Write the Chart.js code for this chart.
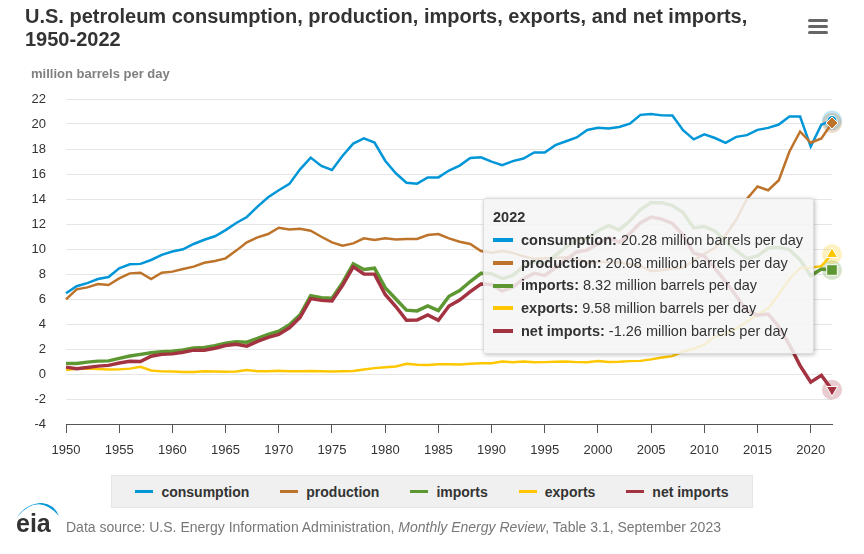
<!DOCTYPE html>
<html lang="en">
<head>
<meta charset="UTF-8" />
<title>U.S. petroleum consumption, production, imports, exports, and net imports, 1950-2022</title>
<script src="https://cdn.jsdelivr.net/npm/chart.js"></script>
<style>
  body {
    margin: 0;
    background: #fff;
    font-family: Arial, "Liberation Sans", Helvetica, sans-serif;
  }
  #wrap {
    position: relative;
    width: 864px;
    height: 554px;
    overflow: hidden;
  }
  #chartBox {
    position: absolute;
    left: 0;
    top: 0;
    width: 864px;
    height: 554px;
  }
  h1 {
    position: absolute;
    left: 25px;
    top: 5px;
    margin: 0;
    font-size: 20px;
    line-height: 23px;
    font-weight: bold;
    color: #333;
    z-index: 2;
  }
  .menu {
    position: absolute;
    left: 808px;
    top: 19px;
    width: 20px;
    z-index: 2;
  }
  .menu span {
    display: block;
    height: 3px;
    margin-bottom: 3px;
    border-radius: 2px;
    background: #666;
  }
  .unit {
    position: absolute;
    left: 31px;
    top: 66px;
    font-size: 13px;
    font-weight: bold;
    color: #7f7f7f;
    z-index: 2;
  }
  #legend {
    position: absolute;
    left: 111px;
    top: 475px;
    width: 640px;
    height: 31px;
    background: #f0f0f0;
    border: 1px solid #e6e6e6;
    display: flex;
    align-items: center;
    justify-content: center;
    gap: 31px;
    z-index: 2;
  }
  .lg-item {
    display: flex;
    align-items: center;
    font-size: 14px;
    font-weight: bold;
    color: #333;
  }
  .lg-dash {
    display: inline-block;
    width: 18px;
    height: 3px;
    margin-right: 8px;
  }
  .source {
    position: absolute;
    left: 66px;
    top: 519px;
    font-size: 14px;
    color: #777;
    z-index: 2;
  }
  .logo {
    position: absolute;
    left: 14px;
    top: 498px;
    z-index: 2;
  }
  #tip {
    position: absolute;
    display: none;
    padding: 8px 10px 10px 9px;
    background: rgba(245, 245, 245, 0.86);
    border: 1px solid #dcdcdc;
    border-radius: 3px;
    box-shadow: 1px 1px 4px rgba(0, 0, 0, 0.25);
    color: #333;
    font-size: 14.5px;
    white-space: nowrap;
    z-index: 3;
  }
  .tt-title {
    font-weight: bold;
    line-height: 20px;
    margin-bottom: 2px;
  }
  .tt-row {
    display: flex;
    align-items: center;
    line-height: 22.7px;
  }
  .tt-dash {
    display: inline-block;
    width: 20px;
    height: 4px;
    margin-right: 8px;
  }
</style>
</head>
<body>
<div id="wrap">
  <div id="chartBox"><canvas id="petroChart"></canvas></div>
  <h1>U.S. petroleum consumption, production, imports, exports, and net imports,<br>1950-2022</h1>
  <div class="menu"><span></span><span></span><span></span></div>
  <div class="unit">million barrels per day</div>
  <div id="legend"></div>
  <svg class="logo" width="50" height="38" viewBox="0 0 50 38">
    <path d="M3,19 Q24,-6 45,18 Q40,6 28,5 Q13,5 3,19 Z" fill="#0096d7"/>
    <text x="2" y="34" font-family="Arial, Liberation Sans, sans-serif" font-size="25" font-weight="bold" fill="#333">eia</text>
  </svg>
  <div class="source">Data source: U.S. Energy Information Administration, <i>Monthly Energy Review</i>, Table 3.1, September 2023</div>
  <div id="tip"></div>
</div>

<script>
  const years = [
    1950, 1951, 1952, 1953, 1954, 1955, 1956, 1957, 1958, 1959,
    1960, 1961, 1962, 1963, 1964, 1965, 1966, 1967, 1968, 1969,
    1970, 1971, 1972, 1973, 1974, 1975, 1976, 1977, 1978, 1979,
    1980, 1981, 1982, 1983, 1984, 1985, 1986, 1987, 1988, 1989,
    1990, 1991, 1992, 1993, 1994, 1995, 1996, 1997, 1998, 1999,
    2000, 2001, 2002, 2003, 2004, 2005, 2006, 2007, 2008, 2009,
    2010, 2011, 2012, 2013, 2014, 2015, 2016, 2017, 2018, 2019,
    2020, 2021, 2022
  ];

  const consumption = [
    6.46, 7.02, 7.27, 7.60, 7.76, 8.46, 8.78, 8.81, 9.12, 9.53,
    9.80, 9.98, 10.40, 10.74, 11.02, 11.51, 12.08, 12.56, 13.39, 14.14,
    14.70, 15.21, 16.37, 17.31, 16.65, 16.32, 17.46, 18.43, 18.85, 18.51,
    17.06, 16.06, 15.30, 15.23, 15.73, 15.73, 16.28, 16.67, 17.28, 17.33,
    16.99, 16.71, 17.03, 17.24, 17.72, 17.72, 18.31, 18.62, 18.92, 19.52,
    19.70, 19.65, 19.76, 20.03, 20.73, 20.80, 20.69, 20.68, 19.50, 18.77,
    19.18, 18.88, 18.49, 18.97, 19.11, 19.53, 19.69, 19.96, 20.60, 20.60,
    18.19, 19.95, 20.28
  ];

  const production = [
    5.97, 6.77, 6.93, 7.20, 7.12, 7.65, 8.05, 8.10, 7.60, 8.10,
    8.19, 8.40, 8.59, 8.90, 9.04, 9.25, 9.87, 10.53, 10.93, 11.20,
    11.70, 11.57, 11.62, 11.46, 10.98, 10.53, 10.27, 10.45, 10.85, 10.72,
    10.85, 10.77, 10.80, 10.80, 11.12, 11.20, 10.85, 10.58, 10.40, 9.84,
    9.70, 9.84, 9.69, 9.42, 9.21, 9.26, 9.29, 9.33, 9.19, 8.90,
    8.98, 8.95, 8.94, 8.80, 8.64, 8.25, 8.29, 8.44, 8.49, 9.09,
    9.61, 10.10, 11.11, 12.34, 14.00, 15.00, 14.70, 15.50, 17.80, 19.40,
    18.50, 18.85, 20.08
  ];

  const imports = [
    0.85, 0.84, 0.95, 1.03, 1.05, 1.25, 1.44, 1.57, 1.70, 1.78,
    1.82, 1.92, 2.08, 2.12, 2.26, 2.47, 2.57, 2.54, 2.84, 3.17,
    3.42, 3.93, 4.74, 6.26, 6.11, 6.06, 7.31, 8.81, 8.36, 8.46,
    6.91, 6.00, 5.11, 5.05, 5.44, 5.07, 6.22, 6.68, 7.40, 8.06,
    8.02, 7.63, 7.89, 8.62, 9.00, 8.83, 9.48, 10.16, 10.71, 10.85,
    11.46, 11.87, 11.53, 12.26, 13.15, 13.71, 13.71, 13.47, 12.92, 11.69,
    11.79, 11.44, 10.60, 9.86, 9.24, 9.45, 10.06, 10.14, 9.94, 9.14,
    7.86, 8.40, 8.32
  ];

  const exports = [
    0.31, 0.42, 0.43, 0.40, 0.36, 0.37, 0.43, 0.57, 0.28, 0.21,
    0.20, 0.17, 0.17, 0.21, 0.20, 0.19, 0.20, 0.31, 0.23, 0.23,
    0.26, 0.22, 0.22, 0.23, 0.22, 0.21, 0.22, 0.24, 0.36, 0.47,
    0.54, 0.60, 0.82, 0.74, 0.72, 0.78, 0.78, 0.76, 0.82, 0.86,
    0.86, 1.00, 0.95, 1.00, 0.94, 0.95, 0.98, 1.00, 0.95, 0.94,
    1.04, 0.97, 0.98, 1.03, 1.05, 1.17, 1.32, 1.43, 1.80, 2.02,
    2.35, 2.99, 3.21, 3.62, 4.18, 4.74, 5.26, 6.38, 7.60, 8.47,
    8.51, 8.63, 9.58
  ];

  const netImports = [
    0.55, 0.42, 0.52, 0.63, 0.69, 0.88, 1.01, 1.00, 1.42, 1.57,
    1.61, 1.74, 1.91, 1.91, 2.06, 2.28, 2.37, 2.23, 2.61, 2.93,
    3.16, 3.70, 4.52, 6.03, 5.89, 5.85, 7.09, 8.57, 8.00, 7.99,
    6.36, 5.40, 4.30, 4.31, 4.72, 4.29, 5.44, 5.91, 6.59, 7.20,
    7.16, 6.63, 6.94, 7.62, 8.05, 7.89, 8.50, 9.16, 9.76, 9.91,
    10.42, 10.90, 10.55, 11.24, 12.10, 12.55, 12.39, 12.04, 11.11, 9.67,
    9.44, 8.45, 7.39, 6.24, 5.06, 4.71, 4.80, 3.77, 2.34, 0.67,
    -0.65, -0.10, -1.26
  ];

  const seriesNames = ['consumption', 'production', 'imports', 'exports', 'net imports'];
  const seriesColors = ['#0096d7', '#bd732a', '#5d9732', '#ffc702', '#a33340'];
  const unitText = 'million barrels per day';

  function toPoints(values) {
    return years.map((yr, i) => ({ x: yr, y: values[i] }));
  }

  function withAlpha(hex, a) {
    const n = parseInt(hex.slice(1), 16);
    return `rgba(${(n >> 16) & 255}, ${(n >> 8) & 255}, ${n & 255}, ${a})`;
  }

  function makeSet(i, values, style) {
    return Object.assign({
      label: seriesNames[i],
      data: toPoints(values),
      borderColor: seriesColors[i],
      backgroundColor: seriesColors[i],
      borderWidth: 2.5,
      pointRadius: 0,
      pointHoverBackgroundColor: seriesColors[i],
      pointHoverBorderColor: '#ffffff',
      pointHoverBorderWidth: 1,
      tension: 0,
      clip: false,
      order: 4 - i
    }, style);
  }

  // translucent circle behind each hovered point
  const haloPlugin = {
    id: 'halo',
    beforeDatasetsDraw(chart) {
      const ctx = chart.ctx;
      chart.getActiveElements().forEach(a => {
        const color = chart.data.datasets[a.datasetIndex].borderColor;
        ctx.save();
        ctx.beginPath();
        ctx.arc(a.element.x, a.element.y, 10, 0, Math.PI * 2);
        ctx.fillStyle = withAlpha(color, 0.25);
        ctx.fill();
        ctx.restore();
      });
    }
  };

  function externalTooltip(context) {
    const { chart, tooltip } = context;
    const tip = document.getElementById('tip');
    if (tooltip.opacity === 0 || !tooltip.dataPoints) {
      tip.style.display = 'none';
      return;
    }
    let html = `<div class="tt-title">${tooltip.title[0]}</div>`;
    tooltip.dataPoints.forEach(dp => {
      const color = dp.dataset.borderColor;
      html += `<div class="tt-row"><span class="tt-dash" style="background:${color}"></span>` +
              `<b>${dp.dataset.label}:</b>&nbsp;${dp.parsed.y.toFixed(2)} ${unitText}</div>`;
    });
    tip.innerHTML = html;
    tip.style.display = 'block';
    tip.style.left = (tooltip.caretX - 18 - tip.offsetWidth) + 'px';
    tip.style.top = (chart.chartArea.top + 99) + 'px';
  }

  Chart.defaults.font.family = 'Arial, "Liberation Sans", Helvetica, sans-serif';
  Chart.defaults.color = '#333';

  const ctx = document.getElementById('petroChart').getContext('2d');
  const chart = new Chart(ctx, {
    type: 'line',
    data: {
      datasets: [
        makeSet(0, consumption, { pointStyle: 'circle', pointHoverRadius: 5 }),
        makeSet(1, production, { pointStyle: 'rectRot', pointHoverRadius: 6 }),
        makeSet(2, imports, { borderWidth: 3.5, pointStyle: 'rect', pointHoverRadius: 7.5 }),
        makeSet(3, exports, { pointStyle: 'triangle', pointHoverRadius: 6.5 }),
        makeSet(4, netImports, { borderWidth: 3.5, pointStyle: 'triangle', pointRotation: 180, pointHoverRadius: 6.5 })
      ]
    },
    options: {
      responsive: true,
      maintainAspectRatio: false,
      animation: false,
      events: [],
      layout: {
        padding: { left: 0, right: 32, top: 99, bottom: 90 }
      },
      scales: {
        x: {
          type: 'linear',
          min: 1950,
          max: 2022,
          afterFit(scale) { scale.height = 40; },
          ticks: {
            stepSize: 5,
            includeBounds: false,
            padding: 10,
            font: { size: 13 },
            color: '#333',
            maxRotation: 0,
            callback: v => String(v)
          },
          grid: {
            drawOnChartArea: false,
            drawTicks: true,
            tickLength: 9,
            color: '#555'
          },
          border: { display: true, color: '#555', width: 1 }
        },
        y: {
          min: -4,
          max: 22,
          afterFit(scale) { scale.width = 66; },
          ticks: {
            stepSize: 2,
            padding: 20,
            font: { size: 13 },
            color: '#333'
          },
          grid: {
            color: '#e6e6e6',
            lineWidth: 1,
            drawTicks: false
          },
          border: { display: false }
        }
      },
      plugins: {
        legend: { display: false },
        tooltip: {
          enabled: false,
          external: externalTooltip,
          callbacks: {
            title: items => String(items[0].parsed.x)
          }
        }
      }
    },
    plugins: [haloPlugin]
  });

  // legend in the grey box under the plot
  const legendEl = document.getElementById('legend');
  chart.data.datasets.forEach(ds => {
    const item = document.createElement('div');
    item.className = 'lg-item';
    item.innerHTML = `<span class="lg-dash" style="background:${ds.borderColor}"></span>${ds.label}`;
    legendEl.appendChild(item);
  });

  // show the 2022 hover state as in the reference
  const last = years.length - 1;
  const active = seriesNames.map((_, i) => ({ datasetIndex: i, index: last }));
  chart.setActiveElements(active);
  chart.tooltip.setActiveElements(active, { x: 0, y: 0 });
  chart.update();
</script>
</body>
</html>
